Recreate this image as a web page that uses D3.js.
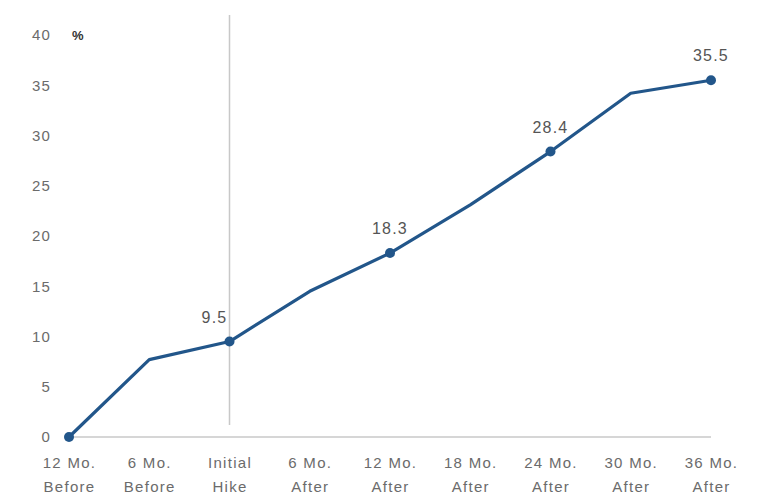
<!DOCTYPE html>
<html>
<head>
<meta charset="utf-8">
<script src="https://cdn.jsdelivr.net/npm/d3@7"></script>
<style>
  body { margin: 0; background: #fff; }
  svg { display: block; font-family: "Liberation Sans", Arial, sans-serif; }
</style>
</head>
<body>
<svg width="760" height="502"></svg>
<script>
// dados
let categorias = ["12 Mo.|Before", "6 Mo.|Before", "Initial|Hike", "6 Mo.|After", "12 Mo.|After",
                  "18 Mo.|After", "24 Mo.|After", "30 Mo.|After", "36 Mo.|After"];
let valores = [0, 7.7, 9.5, 14.5, 18.3, 23.1, 28.4, 34.2, 35.5];
let com_marcador = [true, false, true, false, true, false, true, false, true];
let com_rotulo = [false, false, true, false, true, false, true, false, true];
let ticks_y = [0, 5, 10, 15, 20, 25, 30, 35, 40];
let linha_vertical = "Initial|Hike";

let cor_linha = "#22568a";
let cor_texto = "#6b6b6b";

let svg = d3.select("svg");

let x = d3.scalePoint()
  .domain(categorias)
  .range([69, 711]);

let y = d3.scaleLinear()
  .domain([0, 40])
  .range([437, 35]);

// eixo y (so os numeros)
let eixo_y = svg.append("g")
  .attr("transform", "translate(51,0)")
  .call(d3.axisLeft(y).tickValues(ticks_y).tickSize(0).tickPadding(0));
eixo_y.select(".domain").remove();
eixo_y.selectAll("text")
  .attr("fill", cor_texto)
  .attr("font-size", 15)
  .attr("letter-spacing", 1.2)
  .attr("font-family", "Liberation Sans, Arial, sans-serif");

svg.append("text")
  .attr("x", 72)
  .attr("y", y(40))
  .attr("dy", "0.35em")
  .attr("font-size", 13)
  .attr("font-weight", "bold")
  .attr("fill", "#333")
  .text("%");

// linha base
svg.append("line")
  .attr("x1", x(categorias[0]))
  .attr("x2", x(categorias[categorias.length - 1]))
  .attr("y1", y(0))
  .attr("y2", y(0))
  .attr("stroke", "#c8c8c8")
  .attr("stroke-width", 1.5);

// linha vertical no aumento inicial
svg.append("line")
  .attr("x1", x(linha_vertical))
  .attr("x2", x(linha_vertical))
  .attr("y1", 15)
  .attr("y2", 425)
  .attr("stroke", "#c8c8c8")
  .attr("stroke-width", 1.5);

// rotulos do eixo x
let eixo_x = svg.append("g")
  .attr("transform", "translate(0," + y(0) + ")")
  .call(d3.axisBottom(x).tickSize(0).tickPadding(0));
eixo_x.select(".domain").remove();
eixo_x.selectAll("text").remove();
eixo_x.selectAll(".tick")
  .append("text")
  .attr("fill", cor_texto)
  .attr("font-size", 15)
  .attr("letter-spacing", 1.3)
  .attr("text-anchor", "middle")
  .attr("font-family", "Liberation Sans, Arial, sans-serif")
  .selectAll("tspan")
  .data(d => d.split("|"))
  .join("tspan")
    .attr("x", 0)
    .attr("y", (d, i) => 31 + i * 24)
    .text(d => d);

let pontos = categorias.map((c, i) => ({cat: c, valor: valores[i], marcador: com_marcador[i], rotulo: com_rotulo[i]}));

let linha = d3.line()
  .x(d => x(d.cat))
  .y(d => y(d.valor));

svg.append("path")
  .datum(pontos)
  .attr("d", linha)
  .attr("fill", "none")
  .attr("stroke", cor_linha)
  .attr("stroke-width", 3.2)
  .attr("stroke-linejoin", "round");

svg.selectAll("circle.marcador")
  .data(pontos.filter(d => d.marcador))
  .join("circle")
    .classed("marcador", true)
    .attr("cx", d => x(d.cat))
    .attr("cy", d => y(d.valor))
    .attr("r", 5)
    .attr("fill", cor_linha);

svg.selectAll("text.rotulo")
  .data(pontos.filter(d => d.rotulo))
  .join("text")
    .classed("rotulo", true)
    .attr("x", d => x(d.cat) + (d.cat == linha_vertical ? -15 : 0))
    .attr("y", d => y(d.valor) - 19)
    .attr("text-anchor", "middle")
    .attr("font-size", 16)
    .attr("letter-spacing", 1.2)
    .attr("fill", "#555")
    .text(d => d.valor.toFixed(1));
</script>
</body>
</html>
